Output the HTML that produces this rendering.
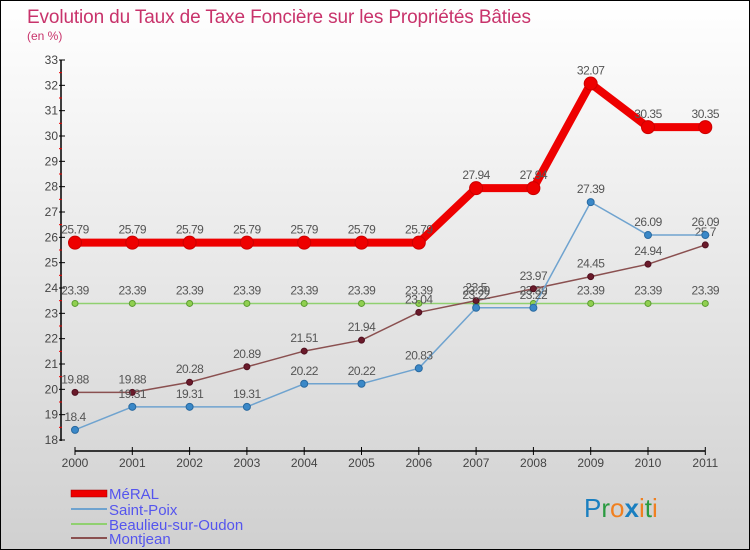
<!DOCTYPE html>
<html><head><meta charset="utf-8"><style>
body{margin:0;}
#c{width:748px;height:548px;border:1px solid #000;background:linear-gradient(#fff,#d0d0d0);position:relative;overflow:hidden;font-family:"Liberation Sans",sans-serif;}
svg text{font-family:"Liberation Sans",sans-serif;}
</style></head><body>
<div id="c">
<svg id="s" width="748" height="548" xmlns="http://www.w3.org/2000/svg">
<text x="26" y="22" font-size="19" fill="#c8336b" textLength="504">Evolution du Taux de Taxe Foncière sur les Propriétés Bâties</text>
<text x="26" y="39" font-size="12" fill="#c8336b">(en %)</text>
<g id="axes"></g><g id="series"></g>
<g>
<rect x="70" y="489" width="36" height="7" fill="#e00" stroke="#900" stroke-width="0.5"/>
<text x="108" y="498" font-size="15" fill="#5555ee">MéRAL</text>
<line x1="70" y1="508" x2="106" y2="508" stroke="#6fa3cf" stroke-width="2"/>
<text x="108" y="514" font-size="15" fill="#5555ee">Saint-Poix</text>
<line x1="70" y1="523" x2="106" y2="523" stroke="#90d070" stroke-width="2"/>
<text x="108" y="529" font-size="15" fill="#5555ee">Beaulieu-sur-Oudon</text>
<line x1="70" y1="537" x2="106" y2="537" stroke="#8a5050" stroke-width="2"/>
<text x="108" y="543" font-size="15" fill="#5555ee">Montjean</text>
</g>
<g font-size="26">
<text x="583" y="516"><tspan fill="#1a7fc0">P</tspan><tspan fill="#2a9a40">r</tspan><tspan fill="#f08020">o</tspan><tspan fill="#1a7fc0" font-weight="bold">x</tspan><tspan fill="#f08020">i</tspan><tspan fill="#2a9a40">t</tspan><tspan fill="#f08020">i</tspan></text>
</g>
</svg>
</div>
<script>
const years=["2000","2001","2002","2003","2004","2005","2006","2007","2008","2009","2010","2011"];
const yTicks=[18,19,20,21,22,23,24,25,26,27,28,29,30,31,32,33];
const meral=[25.79,25.79,25.79,25.79,25.79,25.79,25.79,27.94,27.94,32.07,30.35,30.35];
const saintPoix=[18.4,19.31,19.31,19.31,20.22,20.22,20.83,23.22,23.22,27.39,26.09,26.09];
const beaulieu=[23.39,23.39,23.39,23.39,23.39,23.39,23.39,23.39,23.39,23.39,23.39,23.39];
const montjean=[19.88,19.88,20.28,20.89,21.51,21.94,23.04,23.5,23.97,24.45,24.94,25.7];
const NS="http://www.w3.org/2000/svg";
const x0=74,xStep=57.3,yMin=18,yMax=33,yTop=59,yBot=439;
const X=i=>x0+i*xStep;
const Y=v=>yBot-(v-yMin)/(yMax-yMin)*(yBot-yTop);
function mk(t,a,p){const e=document.createElementNS(NS,t);for(const k in a)e.setAttribute(k,a[k]);p.appendChild(e);return e;}
const ax=document.getElementById('axes');
const yl=mk('line',{x1:60,y1:yTop,x2:60,y2:yBot+1,stroke:'#000','stroke-width':1.5},ax);


yTicks.forEach(v=>{
 mk('line',{x1:58,y1:Y(v),x2:64,y2:Y(v),stroke:'#000'},ax);
 if(v<yMax) mk('line',{x1:58,y1:Y(v+0.5),x2:61,y2:Y(v+0.5),stroke:'#e00'},ax);
 const t=mk('text',{x:57,y:Y(v)+4,'font-size':12,fill:'#444','text-anchor':'end'},ax);t.textContent=v;
 
 
});
const xl=mk('line',{x1:X(0),y1:450,x2:X(11),y2:450,stroke:'#000','stroke-width':1.5},ax);


years.forEach((y,i)=>{
 mk('line',{x1:X(i),y1:446,x2:X(i),y2:454,stroke:'#000'},ax);
 const t=mk('text',{x:X(i),y:466,'font-size':12,fill:'#444','text-anchor':'middle'},ax);t.textContent=y;
 
 
});
const sg=document.getElementById('series');
function draw(name,data,color,w,r,fill,stroke){
 const g=mk('g',{},sg);
 
 
 mk('polyline',{points:data.map((v,i)=>X(i)+','+Y(v)).join(' '),fill:'none',stroke:color,'stroke-width':w,'stroke-linejoin':'round'},g);
 data.forEach((v,i)=>{
  const c=mk('circle',{cx:X(i),cy:Y(v),r:r,fill:fill,stroke:stroke,'stroke-width':1},g);
  
  
  const t=mk('text',{x:X(i),y:Y(v)-9,'font-size':12,fill:'#555','text-anchor':'middle','letter-spacing':'-0.5'},g);t.textContent=v;
  
  
 });
}
draw('beaulieu',beaulieu,'#90d070',1.5,3,'#90d050','#5a9a30');
draw('montjean',montjean,'#8a5050',1.5,3,'#6a1a2a','#501020');
draw('saint-poix',saintPoix,'#6fa3cf',1.5,3.5,'#3a88c8','#2a6aa0');
draw('meral',meral,'#ee0000',8,6.5,'#ee0000','#cc0000');
</script>
</body></html>
